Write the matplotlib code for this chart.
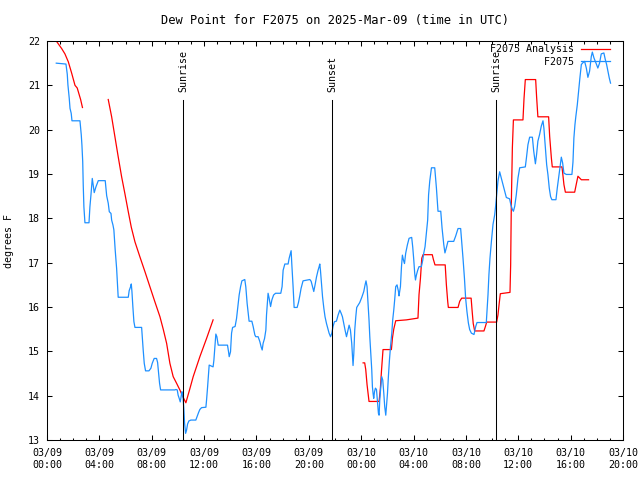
#!/usr/bin/env python3
"""
Dew point time series for station F2075 (observations vs analysis)
"""
import numpy as np
import pandas as pd
import matplotlib as mpl
mpl.use("Agg")
import matplotlib.pyplot as plt
import matplotlib.dates as mdates

mpl.rcParams.update({
    "font.family": "DejaVu Sans Mono",
    "font.size": 7.2,
    "axes.linewidth": 0.75,
})

START = pd.Timestamp("2025-03-09 00:00")
END = pd.Timestamp("2025-03-10 20:00")

# ---------------------------------------------------------------------------
# Data (hours since 03/09 00:00 UTC, dew point in degrees F)
# ---------------------------------------------------------------------------

obs_hours = [
    0.71, 1.45, 1.55, 1.60, 1.70, 1.76, 1.85, 1.91, 2.52, 2.62, 2.67, 2.73, 2.77, 2.82,
    2.90, 3.21, 3.28, 3.36, 3.46, 3.53, 3.61, 3.74, 3.92, 4.45, 4.56, 4.68, 4.76, 4.89,
    4.94, 5.04, 5.11, 5.21, 5.32, 5.40, 5.44, 6.21, 6.28, 6.39, 6.44, 6.49, 6.56, 6.64,
    6.72, 7.23, 7.27, 7.35, 7.43, 7.53, 7.79, 7.94, 8.04, 8.19, 8.37, 8.45, 8.53, 8.60,
    8.68, 9.77, 9.85, 9.95, 10.02, 10.10, 10.18, 10.25, 10.31, 10.36, 10.40, 10.46, 10.51,
    10.59, 10.66, 10.74, 10.84, 10.99, 11.37, 11.47, 11.58, 11.68, 11.81, 12.14, 12.19,
    12.27, 12.34, 12.39, 12.54, 12.69, 12.75, 12.82, 12.90, 12.98, 13.08, 13.79, 13.87,
    13.92, 14.02, 14.10, 14.18, 14.37, 14.48, 14.58, 14.68, 14.79, 14.89, 15.11, 15.19,
    15.29, 15.40, 15.44, 15.65, 15.75, 15.88, 15.95, 16.13, 16.26, 16.36, 16.44, 16.51,
    16.62, 16.72, 16.77, 16.85, 16.89, 16.97, 17.08, 17.18, 17.31, 17.46, 17.86, 17.96,
    18.04, 18.17, 18.42, 18.50, 18.60, 18.65, 18.70, 18.80, 18.88, 19.11, 19.21, 19.31,
    19.41, 19.56, 20.08, 20.18, 20.28, 20.38, 20.48, 20.59, 20.71, 20.79, 20.84, 20.89,
    20.97, 21.05, 21.15, 21.24, 21.35, 21.45, 21.55, 21.66, 21.76, 21.85, 21.96, 22.11,
    22.24, 22.37, 22.47, 22.57, 22.67, 22.77, 22.88, 23.00, 23.08, 23.18, 23.28, 23.34,
    23.38, 23.44, 23.51, 23.59, 23.66, 23.89, 24.05, 24.20, 24.30, 24.37, 24.45, 24.53,
    24.60, 24.66, 24.73, 24.81, 24.86, 24.91, 24.96, 25.02, 25.09, 25.17, 25.24, 25.32,
    25.37, 25.42, 25.50, 25.57, 25.65, 25.73, 25.80, 25.88, 25.93, 26.01, 26.08, 26.16,
    26.24, 26.34, 26.41, 26.49, 26.56, 26.64, 26.74, 26.85, 26.89, 27.00, 27.08, 27.15,
    27.23, 27.31, 27.40, 27.53, 27.66, 27.86, 27.94, 28.02, 28.09, 28.15, 28.22, 28.32,
    28.42, 28.60, 28.70, 28.78, 28.88, 28.98, 29.08, 29.15, 29.24, 29.37, 29.62, 29.75,
    29.87, 30.08, 30.18, 30.31, 30.40, 30.52, 30.63, 31.07, 31.22, 31.40, 31.60, 31.78,
    31.89, 31.98, 32.08, 32.19, 32.29, 32.42, 32.62, 32.75, 32.85, 33.56, 33.69, 33.76,
    33.84, 33.95, 34.07, 34.20, 34.27, 34.35, 34.45, 34.58, 34.71, 34.83, 34.96, 35.09,
    35.34, 35.44, 35.55, 35.63, 35.73, 35.85, 35.98, 36.11, 36.54, 36.62, 36.74, 36.87,
    37.08, 37.18, 37.31, 37.40, 37.50, 37.63, 37.76, 37.89, 37.96, 38.07, 38.17, 38.27,
    38.37, 38.47, 38.57, 38.88, 38.98, 39.08, 39.18, 39.29, 39.39, 39.49, 39.67, 40.10,
    40.18, 40.25, 40.33, 40.40, 40.51, 40.61, 40.71, 40.82, 40.94, 41.07, 41.20, 41.32,
    41.45, 41.58, 41.66, 41.78, 41.89, 41.98, 42.08, 42.21, 42.34, 42.54, 42.65, 42.75,
    42.85, 42.95, 43.05,
]
obs_dewpt = [
    21.50, 21.48, 21.25, 21.01, 20.71, 20.48, 20.37, 20.20, 20.20, 19.88, 19.65, 19.28, 18.75, 18.26,
    17.90, 17.90, 18.26, 18.53, 18.90, 18.75, 18.58, 18.71, 18.85, 18.85, 18.51, 18.34, 18.15, 18.11,
    17.96, 17.85, 17.74, 17.29, 16.87, 16.46, 16.22, 16.22, 16.37, 16.46, 16.52, 16.35, 16.01, 15.67,
    15.54, 15.54, 15.37, 15.03, 14.73, 14.56, 14.56, 14.62, 14.73, 14.84, 14.84, 14.75, 14.50, 14.28,
    14.13, 14.13, 14.14, 14.13, 14.01, 13.94, 13.86, 13.98, 14.09, 14.04, 13.94, 13.68, 13.38,
    13.15, 13.22, 13.36, 13.43, 13.45, 13.45, 13.53, 13.62, 13.69, 13.73, 13.74, 13.90,
    14.20, 14.50, 14.69, 14.67, 14.65, 14.80, 15.07, 15.39, 15.33, 15.14, 15.14, 14.99,
    14.88, 14.99, 15.41, 15.54, 15.56, 15.74, 16.01, 16.27, 16.46, 16.59, 16.62, 16.45,
    16.08, 15.78, 15.68, 15.68, 15.56, 15.37, 15.33, 15.33, 15.22, 15.10, 15.03, 15.18,
    15.29, 15.48, 15.82, 16.16, 16.31, 16.20, 16.01, 16.16, 16.27, 16.31, 16.31, 16.46,
    16.83, 16.97, 16.97, 17.10, 17.21, 17.27, 16.98, 16.46, 15.99, 15.99, 16.10, 16.25,
    16.42, 16.59, 16.62, 16.58, 16.46, 16.35, 16.50, 16.68, 16.83, 16.91, 16.97, 16.83,
    16.53, 16.23, 15.97, 15.78, 15.63, 15.52, 15.41, 15.33, 15.41, 15.56, 15.67, 15.68,
    15.82, 15.93, 15.86, 15.78, 15.63, 15.48, 15.33, 15.48, 15.59, 15.48, 15.18, 14.88,
    14.68, 14.96, 15.48, 15.78, 15.99, 16.10, 16.22, 16.35, 16.50, 16.59, 16.46, 16.08,
    15.71, 15.33, 14.96, 14.58, 14.20, 14.05, 13.94, 14.09, 14.17, 14.14, 13.90, 13.60,
    13.56, 13.90, 14.20, 14.43, 14.35, 14.05, 13.75, 13.56, 13.75, 14.05, 14.43, 14.80,
    15.10, 15.41, 15.71, 15.93, 16.16, 16.46, 16.50, 16.35, 16.25, 16.46, 16.91, 17.17,
    17.06, 16.98, 17.21, 17.40, 17.55, 17.57, 17.35, 17.06, 16.76, 16.61, 16.72, 16.83,
    16.91, 16.91, 17.05, 17.21, 17.36, 17.66, 17.96, 18.53, 18.84, 19.14, 19.14, 18.68,
    18.16, 18.16, 17.78, 17.41, 17.22, 17.35, 17.48, 17.48, 17.60, 17.77, 17.77, 17.10,
    16.65, 16.20, 15.90, 15.64, 15.49, 15.41, 15.38, 15.56, 15.65, 15.65, 16.28, 16.73,
    17.10, 17.48, 17.86, 18.08, 18.27, 18.53, 18.84, 19.05, 18.90, 18.76, 18.62, 18.47,
    18.44, 18.30, 18.20, 18.16, 18.27, 18.53, 18.91, 19.14, 19.16, 19.35, 19.66, 19.83,
    19.83, 19.52, 19.23, 19.44, 19.74, 19.89, 20.08, 20.20, 20.03, 19.59, 19.21, 18.98,
    18.68, 18.49, 18.42, 18.42, 18.68, 18.91, 19.14, 19.38, 19.25, 19.02, 18.99, 18.99,
    19.27, 19.81, 20.11, 20.30, 20.56, 20.87, 21.17, 21.47, 21.51, 21.54, 21.39, 21.18,
    21.32, 21.65, 21.75, 21.62, 21.54, 21.47, 21.39, 21.50, 21.71, 21.73, 21.58, 21.47,
    21.32, 21.17, 21.05,
]

# analysis has two gaps (NaN breaks the line)
ana_hours = [
    0.71, 1.12, 1.37, 1.63, 1.89, 2.14, 2.31, 2.57, 2.71,
    3.60,
    4.68, 4.94, 5.19, 5.44, 5.70, 5.95, 6.21, 6.44, 6.72, 7.10, 7.48, 7.86, 8.24, 8.63,
    8.88, 9.14, 9.39, 9.64, 9.90, 10.15, 10.36, 10.61, 10.89, 11.17, 11.68, 12.19, 12.69,
    18.00,
    24.15, 24.27, 24.35, 24.45, 24.60, 25.37, 25.47, 25.55, 25.67, 26.31, 26.39, 26.49,
    26.64, 27.46, 28.34, 28.42, 28.53, 28.63, 28.73, 29.43, 29.52, 29.64, 30.42, 30.51,
    30.61, 30.66, 31.40, 31.53, 31.68, 32.40, 32.48, 32.56, 32.67, 33.38, 33.49, 33.59,
    34.35, 34.45, 34.53, 34.63, 35.37, 35.42, 35.47, 35.55, 35.63, 36.36, 36.44, 36.54,
    37.33, 37.40, 37.50, 38.32, 38.40, 38.53, 38.60, 39.34, 39.41, 39.49, 39.60, 40.31,
    40.44, 40.56, 40.69, 40.82, 41.37,
]
ana_dewpt = [
    22.00, 21.83, 21.71, 21.53, 21.27, 21.00, 20.94, 20.68, 20.50,
    np.nan,
    20.68, 20.29, 19.84, 19.39, 18.94, 18.56, 18.15, 17.80, 17.47, 17.13, 16.80, 16.46, 16.12, 15.78,
    15.50, 15.18, 14.73, 14.43, 14.28, 14.13, 13.99, 13.84, 14.13, 14.43, 14.88, 15.29, 15.71,
    np.nan,
    14.74, 14.74, 14.59, 14.25, 13.87, 13.87, 14.17, 14.55, 15.04, 15.04, 15.30, 15.50,
    15.69, 15.71, 15.75, 16.28, 16.65, 17.10, 17.18, 17.18, 17.07, 16.95, 16.95, 16.50,
    16.13, 15.99, 15.99, 16.13, 16.20, 16.20, 15.90, 15.63, 15.46, 15.46, 15.56, 15.66,
    15.66, 15.82, 16.04, 16.30, 16.33, 16.95, 18.31, 19.59, 20.22, 20.22, 20.70, 21.13,
    21.13, 20.75, 20.29, 20.29, 19.85, 19.36, 19.16, 19.16, 18.98, 18.76, 18.59, 18.59,
    18.78, 18.95, 18.91, 18.87, 18.87,
]

event_hours = [10.40, 21.78, 34.30]
event_names = ["Sunrise", "Sunset", "Sunrise"]
event_top = 20.68

STATION = "F2075"
OBS_COLOR = "#1e90ff"
ANA_COLOR = "#ff0000"


def to_time(hours):
    return START + pd.to_timedelta(np.asarray(hours, dtype=float), unit="h")


def plot(dst):
    fig = plt.figure(figsize=(6.4, 4.8), dpi=100)
    ax = fig.add_axes([0.0734, 0.0833, 0.9000, 0.8313])

    labels = [f"{STATION} Analysis", STATION]
    width = max(len(s) for s in labels)
    labels = [s.rjust(width) for s in labels]

    ax.plot(to_time(ana_hours), ana_dewpt, color=ANA_COLOR, lw=0.9, label=labels[0])
    ax.plot(to_time(obs_hours), obs_dewpt, color=OBS_COLOR, lw=0.9, label=labels[1])

    ax.set_xlim(START, END)
    ax.set_ylim(13, 22)

    for h, name in zip(event_hours, event_names):
        t = to_time([h])[0]
        ax.plot([t, t], [13, event_top], color="black", lw=0.75)
        ax.text(t, event_top + 0.17, name, rotation=90, ha="center", va="bottom")

    ax.xaxis.set_major_locator(mdates.HourLocator(byhour=range(0, 24, 4)))
    ax.xaxis.set_minor_locator(mdates.HourLocator())
    ax.xaxis.set_major_formatter(mdates.DateFormatter("%m/%d\n%H:%M"))
    ax.set_yticks(np.arange(13, 23, 1))

    ax.tick_params(which="both", direction="in", top=True, right=True, width=0.75)
    ax.tick_params(which="major", length=3.5)
    ax.tick_params(which="minor", length=1.8)
    ax.tick_params(axis="x", pad=6)
    ax.tick_params(axis="y", pad=5)

    ax.set_title(f"Dew Point for {STATION} on 2025-Mar-09 (time in UTC)", pad=12)
    ax.set_ylabel("degrees F", labelpad=10)

    ax.legend(loc="upper right", bbox_to_anchor=(0.977, 0.992), frameon=False,
              markerfirst=False, borderaxespad=0, borderpad=0,
              handlelength=2.9, handletextpad=0.7, labelspacing=0.25)

    fig.savefig(dst, dpi=100)


if __name__ == "__main__":
    plot("out.png")
